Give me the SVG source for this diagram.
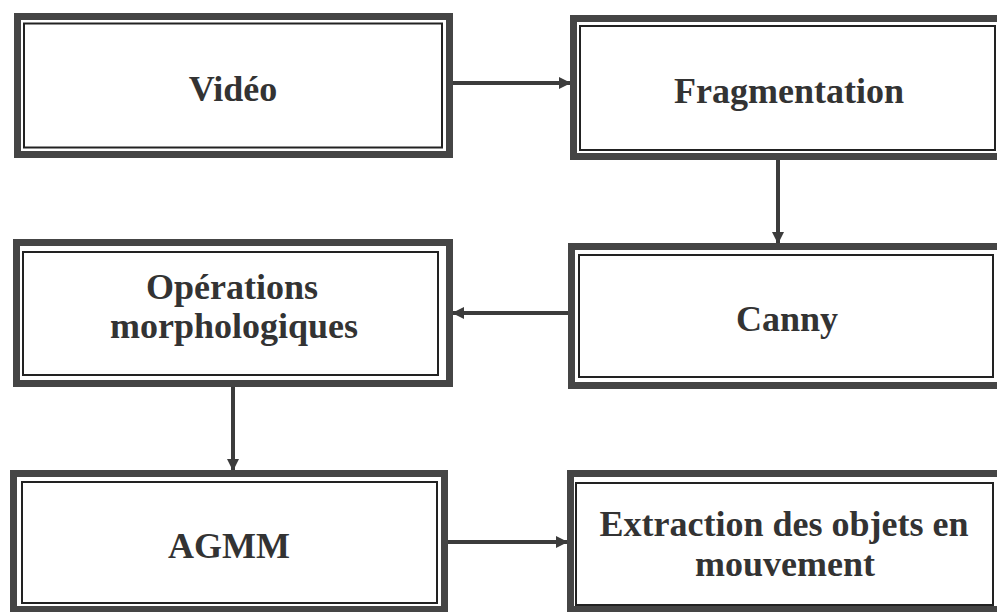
<svg xmlns="http://www.w3.org/2000/svg" width="997" height="612" viewBox="0 0 997 612">
<style>
.outer{fill:#fff;stroke:#454545;stroke-width:7}
.inner{fill:none;stroke:#222;stroke-width:2}
.lbl{font-family:"Liberation Serif","Times New Roman",serif;font-weight:bold;font-size:36px;fill:#333;text-anchor:middle}
.conn{stroke:#3c3c3c;stroke-width:4;fill:none}
</style>
<defs>
<marker id="ah" markerUnits="userSpaceOnUse" markerWidth="14" markerHeight="14" refX="11" refY="6" orient="auto">
<path d="M0,0 L12,6 L0,12 z" fill="#3c3c3c"/>
</marker>
</defs>
<rect width="997" height="612" fill="#fff"/>
<g id="connectors">
<line class="conn" x1="453" y1="83" x2="570" y2="83" marker-end="url(#ah)"/>
<line class="conn" x1="778" y1="160" x2="778" y2="243" marker-end="url(#ah)"/>
<line class="conn" x1="568" y1="313" x2="453" y2="313" marker-end="url(#ah)"/>
<line class="conn" x1="233" y1="387" x2="233" y2="470" marker-end="url(#ah)"/>
<line class="conn" x1="448" y1="542" x2="567" y2="542" marker-end="url(#ah)"/>
</g>
<g id="video">
<rect class="outer" x="17.5" y="16.5" width="432" height="138"/>
<rect class="inner" x="24" y="23.5" width="418" height="124"/>
<text class="lbl" x="233" y="101">Vidéo</text>
</g>
<g id="fragmentation">
<rect class="outer" x="573.5" y="18.5" width="427" height="138"/>
<rect class="inner" x="580" y="26" width="415" height="124"/>
<text class="lbl" x="789" y="103">Fragmentation</text>
</g>
<g id="operations">
<rect class="outer" x="16.5" y="242.5" width="433" height="141"/>
<rect class="inner" x="23" y="252" width="415" height="123"/>
<text class="lbl" x="232" y="299">Opérations</text>
<text class="lbl" x="234" y="338">morphologiques</text>
</g>
<g id="canny">
<rect class="outer" x="571.5" y="246.5" width="430" height="139"/>
<rect class="inner" x="579" y="255" width="414" height="122"/>
<text class="lbl" x="787" y="331">Canny</text>
</g>
<g id="agmm">
<rect class="outer" x="13.5" y="473.5" width="431" height="136"/>
<rect class="inner" x="22" y="482" width="415" height="121"/>
<text class="lbl" x="229" y="558">AGMM</text>
</g>
<g id="extraction">
<rect class="outer" x="570.5" y="473.5" width="430" height="136"/>
<rect class="inner" x="576" y="483" width="417" height="122"/>
<text class="lbl" x="784" y="536">Extraction des objets en</text>
<text class="lbl" x="785" y="576">mouvement</text>
</g>
</svg>
